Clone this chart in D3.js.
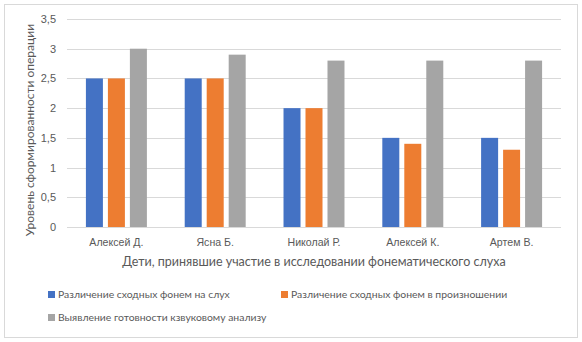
<!DOCTYPE html>
<html lang="ru">
<head>
<meta charset="UTF-8">
<title>Фонематический слух</title>
<script src="https://d3js.org/d3.v7.min.js"></script>
<style>
  body { margin: 0; background: #fff; }
  svg { font-family: Lato, "Open Sans", sans-serif; }
  .tick text { fill: #595959; font-size: 11px; }
  .x-axis .tick text { font-size: 10.6px; }
</style>
</head>
<body>
<svg id="chart" width="582" height="342"></svg>
<script>
const children = ["Алексей Д.", "Ясна Б.", "Николай Р.", "Алексей К.", "Артем В."];
const seriesNames = [
  "Различение сходных фонем на слух",
  "Различение сходных фонем в произношении",
  "Выявление готовности кзвуковому анализу"
];
const hearing = [2.5, 2.5, 2, 1.5, 1.5];
const pronunciation = [2.5, 2.5, 2, 1.4, 1.3];
const readiness = [3, 2.9, 2.8, 2.8, 2.8];
const yTicks = [0, 0.5, 1, 1.5, 2, 2.5, 3, 3.5];
const colors = ["#4472C4", "#ED7D31", "#A5A5A5"];

const seriesValues = [hearing, pronunciation, readiness];

const svg = d3.select("#chart");

// chart frame
svg.append("rect")
  .attr("x", 4.5).attr("y", 4.5)
  .attr("width", 573).attr("height", 333)
  .attr("fill", "#fff").attr("stroke", "#d9d9d9");

const plot = {left: 67, right: 561, top: 19, bottom: 227};

const x = d3.scaleBand().domain(children).range([plot.left, plot.right]);
const xInner = d3.scaleBand().domain(d3.range(3))
  .range([0, x.bandwidth()]).paddingInner(0.227).paddingOuter(0.86);
const y = d3.scaleLinear().domain([0, 3.5]).range([plot.bottom, plot.top]);

// gridlines
svg.append("g").selectAll("line")
  .data(yTicks)
  .join("line")
  .attr("x1", plot.left).attr("x2", plot.right)
  .attr("y1", d => Math.round(y(d)) + 0.5).attr("y2", d => Math.round(y(d)) + 0.5)
  .attr("stroke", "#d9d9d9");

// y axis labels
const yAxis = svg.append("g")
  .attr("transform", `translate(${plot.left - 8},0)`)
  .call(d3.axisLeft(y).tickValues(yTicks).tickSize(0)
    .tickFormat(d => String(d).replace(".", ",")));
yAxis.select(".domain").remove();

// x axis labels
const xAxis = svg.append("g")
  .attr("class", "x-axis")
  .attr("transform", `translate(0,${plot.bottom + 8})`)
  .call(d3.axisBottom(x).tickSize(0));
xAxis.select(".domain").remove();

// bars
const groups = svg.append("g").selectAll("g")
  .data(children)
  .join("g")
  .attr("transform", d => `translate(${x(d)},0)`);

groups.selectAll("rect")
  .data((d, i) => seriesValues.map((s, k) => ({k, v: s[i]})))
  .join("rect")
  .attr("x", d => xInner(d.k))
  .attr("width", xInner.bandwidth())
  .attr("y", d => y(d.v))
  .attr("height", d => y(0) - y(d.v))
  .attr("fill", d => colors[d.k]);

// axis titles
svg.append("text")
  .attr("x", (plot.left + plot.right) / 2)
  .attr("y", 266)
  .attr("text-anchor", "middle")
  .attr("fill", "#595959")
  .attr("font-size", 12.5)
  .text("Дети, принявшие участие в исследовании фонематического слуха");

svg.append("text")
  .attr("transform", `translate(34,130) rotate(-90)`)
  .attr("text-anchor", "middle")
  .attr("fill", "#595959")
  .attr("font-size", 12)
  .text("Уровень сформированности операции");

// legend
const legendPos = [[48, 298], [281, 298], [48, 321]];
const legend = svg.append("g").selectAll("g")
  .data(seriesNames)
  .join("g")
  .attr("transform", (d, i) => `translate(${legendPos[i][0]},${legendPos[i][1]})`);
legend.append("rect")
  .attr("x", 0).attr("y", -7)
  .attr("width", 7).attr("height", 7)
  .attr("fill", (d, i) => colors[i]);
legend.append("text")
  .attr("x", 10).attr("y", 0)
  .attr("fill", "#595959")
  .attr("font-size", 10.4)
  .text(d => d);
</script>
</body>
</html>
